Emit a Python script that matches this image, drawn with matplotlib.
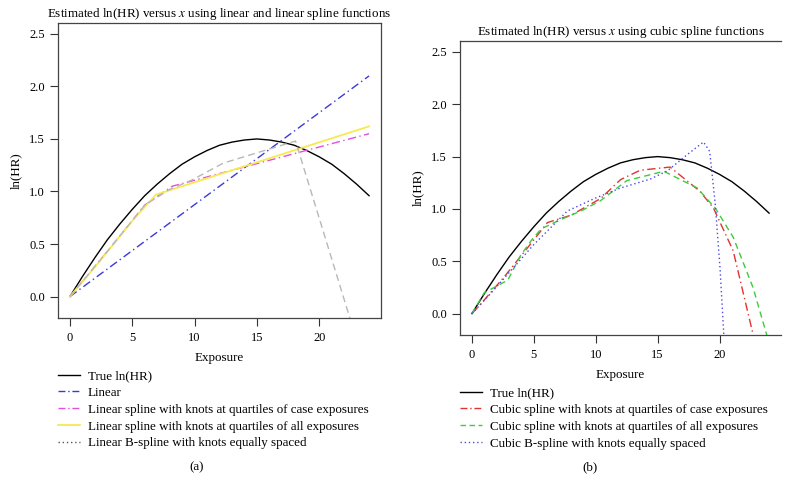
import matplotlib
matplotlib.use("Agg")
import matplotlib.pyplot as plt
from matplotlib.lines import Line2D

plt.rcParams["font.family"] = ["Liberation Serif", "DejaVu Serif"]
plt.rcParams["mathtext.fontset"] = "stix"

# true log hazard ratio, read at integer exposures
true_x = list(range(25))
true_y = [0.00, 0.19, 0.37, 0.54, 0.69, 0.83, 0.96, 1.07, 1.17, 1.26, 1.33, 1.39, 1.44,
          1.47, 1.49, 1.50, 1.49, 1.47, 1.44, 1.39, 1.33, 1.26, 1.17, 1.07, 0.96]

# panel (a)
lin_x = [0, 24]
lin_y = [0.0, 2.10]
lsp_case_x = [0, 3, 6, 8.2, 24]
lsp_case_y = [0.0, 0.43, 0.87, 1.05, 1.55]
lsp_all_x = [0, 2, 5, 6.9, 24]
lsp_all_y = [0.0, 0.28, 0.72, 0.97, 1.62]
lbs_x = [0, 3, 6, 8, 9.8, 12.3, 18.1, 22.5]
lbs_y = [0.0, 0.43, 0.87, 1.02, 1.11, 1.27, 1.48, -0.22]

# panel (b)
csp_case_x = [0, 0.7, 2.6, 4.5, 6.1, 8.0, 10.4, 12.0, 13.6, 16.0, 18.4, 19.5, 21.1, 22.75]
csp_case_y = [0.0, 0.09, 0.35, 0.63, 0.87, 0.94, 1.10, 1.28, 1.37, 1.40, 1.17, 1.01, 0.60, -0.22]
csp_all_x = [0, 1.0, 1.8, 2.9, 3.9, 4.8, 5.6, 7.2, 8.8, 10.4, 12.5, 15.5, 18.2, 19.7, 21.1, 22.7, 23.85]
csp_all_y = [0.0, 0.20, 0.25, 0.32, 0.55, 0.70, 0.81, 0.90, 0.98, 1.08, 1.27, 1.36, 1.20, 1.00, 0.73, 0.25, -0.22]
cbs_x = [0, 1.5, 5.0, 7.7, 9.9, 12.0, 14.4, 15.8, 17.4, 18.7, 19.2, 19.65, 20.05, 20.35]
cbs_y = [0.0, 0.19, 0.66, 0.98, 1.10, 1.20, 1.285, 1.365, 1.52, 1.64, 1.55, 1.05, 0.41, -0.22]

xticks = [0, 5, 10, 15, 20]
yticks = [0.0, 0.5, 1.0, 1.5, 2.0, 2.5]

fig = plt.figure(figsize=(7.9, 4.96), dpi=100)
ax_a = fig.add_axes([0.0734, 0.3589, 0.4089, 0.5948])
ax_b = fig.add_axes([0.5823, 0.3246, 0.4063, 0.5927])

FS = 9.4     # titles, labels, legend
TFS = 8.9    # tick labels
c_lin = "#3a3ad8"
c_lcase = "#e050e0"
c_lall = "#f6ea50"
c_lbs = "#b8b8b8"
c_ccase = "#e03434"
c_call = "#3ccc3c"
c_cbs = "#4a4ae6"
dashdot = (0, (6, 2.5, 1, 2.5))

ax_a.plot(true_x, true_y, color="black", lw=1.0)
ax_a.plot(lin_x, lin_y, color=c_lin, lw=1.0, ls=dashdot)
ax_a.plot(lsp_case_x, lsp_case_y, color=c_lcase, lw=1.0, ls=dashdot)
ax_a.plot(lsp_all_x, lsp_all_y, color=c_lall, lw=1.3)
ax_a.plot(lbs_x, lbs_y, color=c_lbs, lw=1.0, ls=(0, (5, 3)))

ax_b.plot(true_x, true_y, color="black", lw=1.0)
ax_b.plot(csp_case_x, csp_case_y, color=c_ccase, lw=1.0, ls=dashdot)
ax_b.plot(csp_all_x, csp_all_y, color=c_call, lw=1.0, ls=(0, (4.5, 3)))
ax_b.plot(cbs_x, cbs_y, color=c_cbs, lw=1.0, ls=(0, (1, 2)))

titles = [r"Estimated ln(HR) versus $x$ using linear and linear spline functions",
          r"Estimated ln(HR) versus $x$ using cubic spline functions"]
for ax, t in zip((ax_a, ax_b), titles):
    ax.set_xlim(-0.96, 24.96)
    ax.set_ylim(-0.204, 2.604)
    ax.set_xticks(xticks)
    ax.set_yticks(yticks)
    ax.set_yticklabels([f"{v:.1f}" for v in yticks])
    ax.tick_params(labelsize=TFS, length=5.5, width=0.8, direction="out", colors="#333333",
                   labelcolor="black")
    ax.tick_params(axis="x", pad=4.5)
    ax.tick_params(axis="y", pad=4)
    ax.set_xlabel("Exposure", fontsize=FS, labelpad=6)
    ax.set_ylabel("ln(HR)", fontsize=FS, labelpad=5)
    ax.set_title(t, fontsize=FS, pad=4)
    for s in ax.spines.values():
        s.set_linewidth(0.9)
        s.set_color("#444444")
ax_b.spines["right"].set_visible(False)


def dh(color, ls, lw=1.0):
    return Line2D([], [], color=color, ls=ls, lw=lw)


h_a = [dh("black", "-"), dh(c_lin, (0, (5, 2, 1, 2))), dh(c_lcase, (0, (5, 2, 1, 2))),
       dh(c_lall, "-", 1.3), dh("#555555", (0, (1, 2)))]
l_a = ["True ln(HR)", "Linear", "Linear spline with knots at quartiles of case exposures",
       "Linear spline with knots at quartiles of all exposures",
       "Linear B-spline with knots equally spaced"]
h_b = [dh("black", "-"), dh(c_ccase, (0, (5, 2, 1, 2))), dh(c_call, (0, (4, 2.5))),
       dh(c_cbs, (0, (1, 2)))]
l_b = ["True ln(HR)", "Cubic spline with knots at quartiles of case exposures",
       "Cubic spline with knots at quartiles of all exposures",
       "Cubic B-spline with knots equally spaced"]

leg_kw = dict(frameon=False, fontsize=FS, handlelength=1.7, handletextpad=0.6,
              labelspacing=0.36, borderaxespad=0, borderpad=0, loc="upper left")
fig.legend(h_a, l_a, bbox_to_anchor=(58 / 790, 1 - 370 / 496), **leg_kw)
fig.legend(h_b, l_b, bbox_to_anchor=(460 / 790, 1 - 387 / 496), **leg_kw)

fig.text(197 / 790, 1 - 467 / 496, "(a)", fontsize=FS, ha="center", va="center")
fig.text(590 / 790, 1 - 467 / 496, "(b)", fontsize=FS, ha="center", va="center")

fig.savefig("out.png", dpi=100)
